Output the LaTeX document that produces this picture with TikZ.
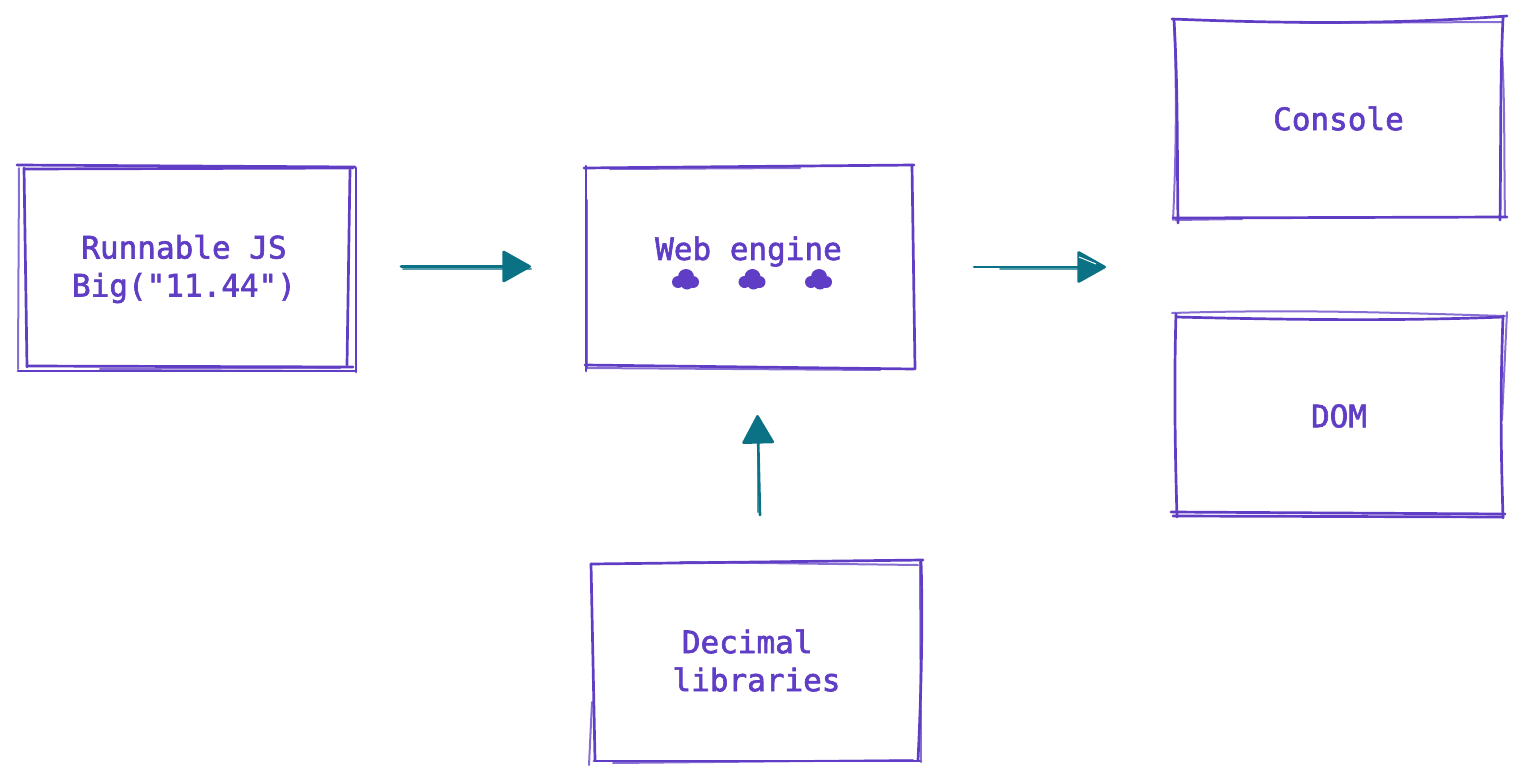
\documentclass[tikz,border=0pt]{standalone}
\usepackage{fontspec}
\setmonofont[FakeBold=2]{DejaVu Sans Mono}
\usetikzlibrary{arrows.meta}
\definecolor{violetink}{HTML}{5F3DC4}
\definecolor{tealink}{HTML}{0B7285}
\tikzset{
  x=1pt,y=-1pt,
  sk/.style={draw=violetink,line width=2.7pt,line cap=round,line join=round},
  sklight/.style={draw=violetink,line width=2pt,opacity=.75,line cap=round,line join=round},
  lbl/.style={text=violetink,align=center,inner sep=0pt,font=\ttfamily\fontsize{31}{38}\selectfont},
  shaft/.style={draw=tealink,line width=2.6pt,line cap=round},
  shaftlight/.style={draw=tealink,line width=2pt,opacity=.7,line cap=round},
  tipped/.style={shaft,-{Triangle[length=30pt,width=33pt,fill=tealink,round]}},
  blob/.style={fill=violetink,draw=none}
}
\begin{document}
\begin{tikzpicture}
\useasboundingbox (0,0) rectangle (1523,782);
% box: Runnable JS
\draw[sk] (17,165) -- (355,167);
\draw[sk] (25,169) -- (353,168);
\draw[sklight] (19,168) -- (18,369);
\draw[sk] (24,168) -- (27,367);
\draw[sk] (356,168) -- (356,372);
\draw[sk] (350,170) -- (347,365);
\draw[sk] (18,371) -- (356,371);
\draw[sk] (27,366) -- (353,367);
\draw[sklight] (100,369) -- (340,368);
\node[lbl] (run) at (184,269) {Runnable JS\\Big("11.44")};
% box: Web engine
\draw[sk] (584,168) -- (914,165);
\draw[sklight] (610,169) -- (800,168);
\draw[sk] (586,166) -- (586,371);
\draw[sklight] (587,200) -- (587,368);
\draw[sk] (912,166) -- (915,369);
\draw[sk] (585,365) -- (914,369);
\draw[sklight] (586,368) -- (880,370);
\node[lbl] (web) at (748.5,251.5) {Web engine};
\foreach \cx in {686,752.5,819}{
  \fill[blob] (\cx,277) circle[radius=8];
  \fill[blob] (\cx-8,282) circle[radius=6];
  \fill[blob] (\cx+7,282) circle[radius=6];
  \fill[blob] (\cx+1,283) circle[radius=6.5];
}
% box: Console
\draw[sk] (1172,19) .. controls (1295,24) and (1400,24) .. (1507,16);
\draw[sklight] (1300,23) -- (1503,22);
\draw[sk] (1174,20) .. controls (1178,90) and (1177,150) .. (1178,223);
\draw[sklight] (1174,22) .. controls (1177,87) and (1176,160) .. (1173,220);
\draw[sk] (1503,18) .. controls (1500,80) and (1501,150) .. (1500,220);
\draw[sklight] (1502,53) .. controls (1505,100) and (1504,170) .. (1505,217);
\draw[sk] (1173,218) -- (1507,217);
\draw[sklight] (1175,220) -- (1242,219);
\node[lbl] (con) at (1338.5,118.5) {Console};
% box: DOM
\draw[sklight] (1172,313) .. controls (1300,309) and (1400,313) .. (1505,316);
\draw[sk] (1176,317) .. controls (1300,320) and (1400,321) .. (1503,317);
\draw[sk] (1176,314) .. controls (1174,380) and (1175,450) .. (1177,517);
\draw[sklight] (1507,312) -- (1502,420);
\draw[sk] (1503,316) .. controls (1500,400) and (1501,450) .. (1503,518);
\draw[sk] (1171,512) -- (1505,514);
\draw[sk] (1173,516) -- (1503,517);
\node[lbl] (dom) at (1339,416) {DOM};
% box: Decimal libraries
\draw[sk] (591,564) -- (923,560);
\draw[sklight] (680,562) -- (918,565);
\draw[sk] (591,564) -- (595,760);
\draw[sklight] (592,702) -- (589,765);
\draw[sk] (921,561) .. controls (923,620) and (921,700) .. (918,760);
\draw[sklight] (920,562) -- (921,762);
\draw[sk] (594,761) -- (920,761);
\draw[sklight] (613,763) -- (913,760);
\node[lbl] (dec) at (756.5,660.5) {Decimal\hbox{\ }\\libraries};
% connectors
\coordinate (a1s) at (401,266.5);  \coordinate (a1e) at (531,266.5);
\coordinate (a1t) at (403,269);  \coordinate (a1u) at (531,269);
\coordinate (a2s) at (974,267);  \coordinate (a2e) at (1106,267);
\coordinate (a2t) at (1000,269); \coordinate (a2u) at (1100,269);
\coordinate (a3s) at (760,515);  \coordinate (a3e) at (757.5,415);
\coordinate (a3t) at (758,512);  \coordinate (a3u) at (758,440);
\draw[tipped] (a1s) -- (a1e);
\draw[shaftlight] (a1t) -- (a1u);
\draw[tipped] (a2s) -- (a2e);
\draw[shaftlight] (a2t) -- (a2u);
\draw[white,line width=1pt] (1079,257) -- (1096,264);
\draw[tipped] (a3s) -- (a3e);
\draw[shaftlight] (a3t) -- (a3u);
\end{tikzpicture}
\end{document}
